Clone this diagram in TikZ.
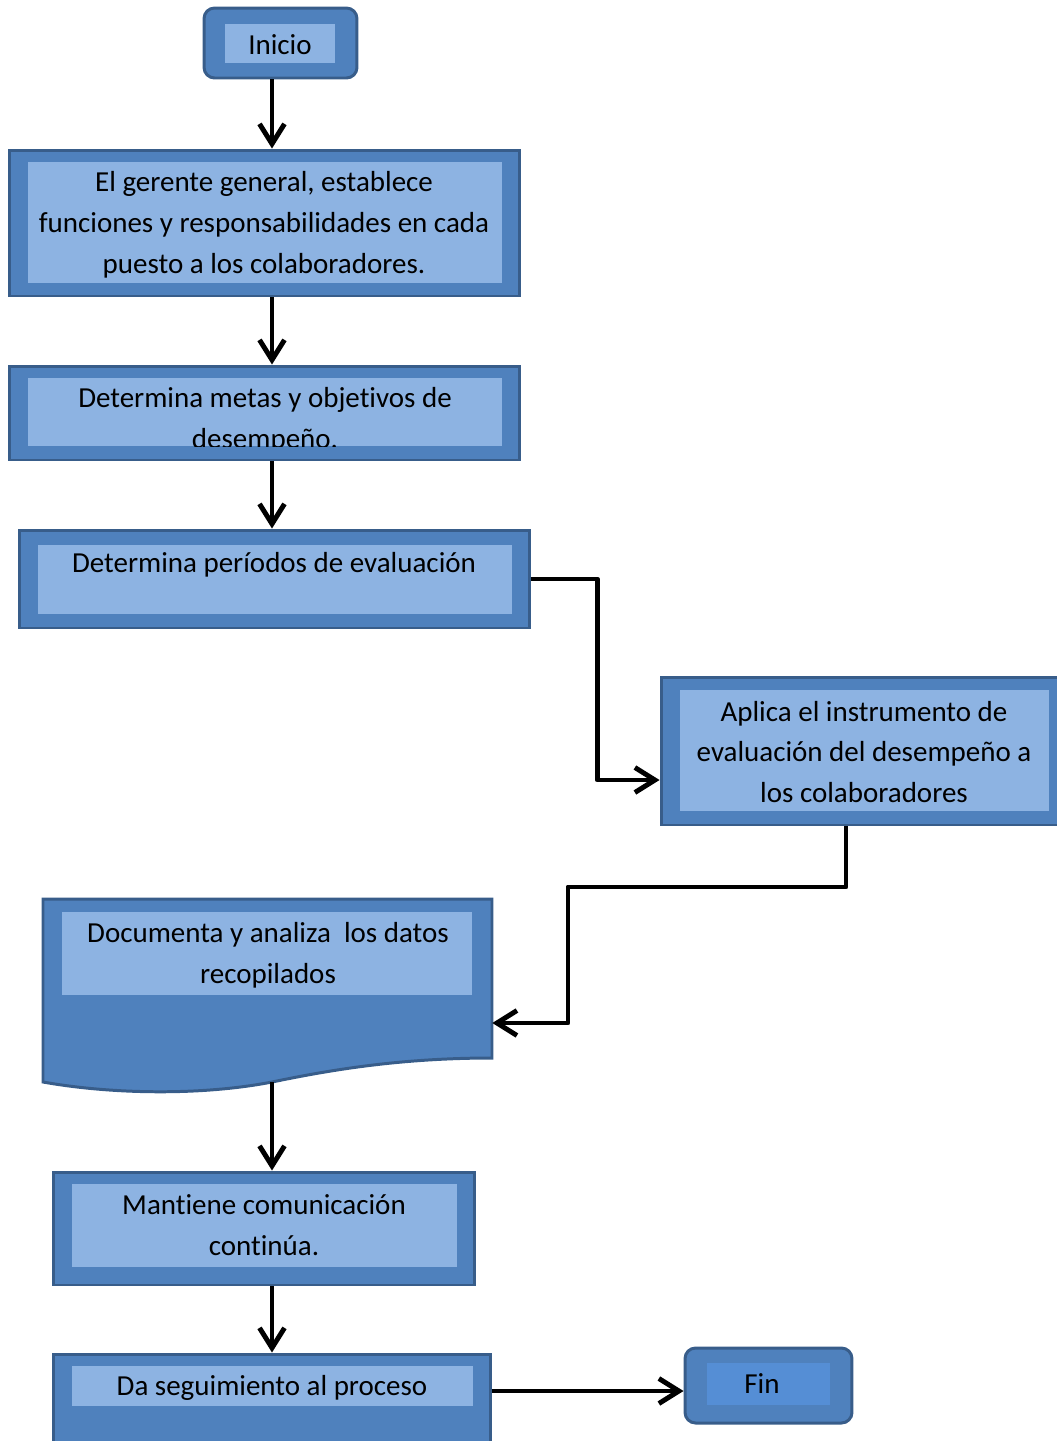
\documentclass[tikz,border=0pt]{standalone}
\usepackage{fontspec}
\setmainfont{Carlito}[Ligatures=NoCommon]
\usetikzlibrary{arrows.meta,calc}
\definecolor{azulborde}{RGB}{56,93,138}
\definecolor{azulfondo}{RGB}{79,129,189}
\definecolor{azulclaro}{RGB}{141,179,226}
\definecolor{azulfin}{RGB}{85,142,213}
\newcommand{\texto}{\fontsize{16.5}{23.3}\selectfont}
\tikzset{
  caja/.style={
    draw=azulborde,
    line width=1.7pt,
    fill=azulfondo,
    inner sep=0pt
  },
  terminal/.style={
    caja,
    rounded corners=6pt
  },
  interior/.style={
    fill=azulclaro,
    inner sep=0pt,
    align=center,
    font=\texto
  },
  texto/.style={
    align=center,
    inner sep=0pt,
    font=\texto
  },
  flecha/.style={
    -{Straight Barb[length=4mm,width=5mm]},
    line width=2.8pt,
    line join=round
  }
}

\begin{document}
\begin{tikzpicture}[x=0.02cm,y=-0.02cm]
\useasboundingbox (0,0) rectangle (1057,1441);
\clip (0,0) rectangle (1057,1441);
\coordinate (eje) at (272,0);

% inicio
\node[terminal,minimum width=3.06cm,minimum height=1.4cm] (inicio) at (280.5,43) {};
\node[interior,minimum width=2.2cm,minimum height=0.78cm] (inicio-i) at (280,43.5) {};
\node[texto] (inicio-t) at (280,44.5) {Inicio};

% pasos
\node[caja,minimum width=10.22cm,minimum height=2.92cm] (gerente) at (264.5,223) {};
\node[interior,minimum width=9.48cm,minimum height=2.42cm] (gerente-i) at (265,222.5) {};
\node[texto] (gerente-t) at (264,225)
  {El gerente general, establece\\funciones y responsabilidades en cada\\puesto a los colaboradores.};

\node[caja,minimum width=10.22cm,minimum height=1.88cm] (metas) at (264.5,413) {};
\node[interior,minimum width=9.48cm,minimum height=1.36cm] (metas-i) at (265,412) {};
\begin{scope}
  \clip (metas-i.north west) rectangle (metas-i.south east);
  \node[texto] (metas-t) at (265,420) {Determina metas y objetivos de\\desempeño.};
\end{scope}

\node[caja,minimum width=10.22cm,minimum height=1.96cm] (periodos) at (274.5,579) {};
\node[interior,minimum width=9.48cm,minimum height=1.38cm] (periodos-i) at (275,579.5) {};
\node[texto] (periodos-t) at (274,565) {Determina períodos de evaluación};

\node[caja,minimum width=8.08cm,minimum height=2.96cm] (aplica) at (863,751) {};
\node[interior,minimum width=7.38cm,minimum height=2.42cm] (aplica-i) at (864.5,750.5) {};
\node[texto] (aplica-t) at (864,752)
  {Aplica el instrumento de\\evaluación del desempeño a\\los colaboradores};

% documento
\path[caja] (43,899) -- (492,899) -- (492,1058)
  .. controls (400,1058) and (330,1070) .. (272,1082)
  .. controls (200,1096) and (110,1094) .. (43,1082) -- cycle;
\node[inner sep=0pt,minimum width=8.98cm,minimum height=3.18cm] (documenta) at (267.5,978.5) {};
\coordinate (documenta-pie) at (272,1082);
\node[interior,minimum width=8.2cm,minimum height=1.66cm] (documenta-i) at (267,953.5) {};
\node[texto] (documenta-t) at (268,955)
  {Documenta y analiza\ \ los datos\\recopilados};

\node[caja,minimum width=8.44cm,minimum height=2.26cm] (mantiene) at (264,1228.5) {};
\node[interior,minimum width=7.7cm,minimum height=1.66cm] (mantiene-i) at (264.5,1225.5) {};
\node[texto] (mantiene-t) at (264,1225.5) {Mantiene comunicación\\continúa.};

\node[caja,minimum width=8.76cm,minimum height=2.12cm] (seguimiento) at (272,1407) {};
\node[interior,minimum width=8.02cm,minimum height=0.8cm] (seguimiento-i) at (272.5,1386) {};
\node[texto] (seguimiento-t) at (272,1388) {Da seguimiento al proceso};

% fin
\node[terminal,minimum width=3.34cm,minimum height=1.5cm] (fin) at (768.5,1385.5) {};
\node[interior,fill=azulfin,minimum width=2.46cm,minimum height=0.84cm] (fin-i) at (768.5,1384) {};
\node[texto] (fin-t) at (762,1384) {Fin};
\coordinate (fin-entrada) at ([yshift=-0.11cm]fin.west);

% conectores
\draw[flecha] (inicio.south -| eje) -- (gerente.north -| eje);
\draw[flecha] (gerente.south -| eje) -- (metas.north -| eje);
\draw[flecha] (metas.south -| eje) -- (periodos.north -| eje);
\draw[flecha] (periodos.east) -- ++(66,0) |- ([yshift=-0.58cm]aplica.west);
\draw[flecha] ([xshift=-0.34cm]aplica.south) |- (568,887) |- ([yshift=-0.89cm]documenta.east);
\draw[flecha] (documenta-pie) -- (mantiene.north -| eje);
\draw[flecha] (mantiene.south -| eje) -- (seguimiento.north -| eje);
\draw[flecha] (fin-entrada -| seguimiento.east) -- (fin-entrada);
\end{tikzpicture}
\end{document}
